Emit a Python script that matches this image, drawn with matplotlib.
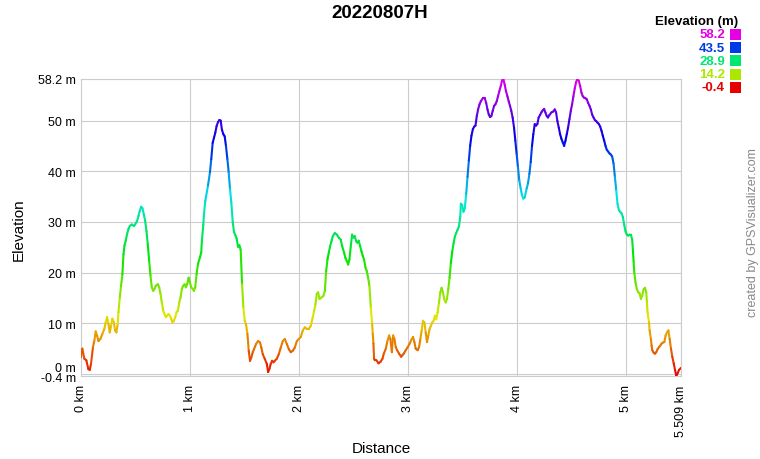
import numpy as np
import matplotlib
matplotlib.use("Agg")
import matplotlib.pyplot as plt
from matplotlib.collections import LineCollection
from matplotlib.colors import hsv_to_rgb
from matplotlib.patches import Rectangle

plt.rcParams['font.family'] = ['Liberation Sans', 'DejaVu Sans']

# elevation profile
dist_km = [
    0.000, 0.012, 0.031, 0.049, 0.067, 0.080, 0.092, 0.110, 0.123, 0.135, 0.147, 0.160, 0.178, 0.196,
    0.215, 0.227, 0.239, 0.252, 0.264, 0.276, 0.288, 0.301, 0.313, 0.325, 0.337, 0.344, 0.356, 0.368,
    0.380, 0.390, 0.399, 0.411, 0.423, 0.436, 0.448, 0.466, 0.485, 0.497, 0.515, 0.528, 0.540, 0.552,
    0.564, 0.577, 0.589, 0.601, 0.613, 0.626, 0.638, 0.650, 0.663, 0.675, 0.687, 0.706, 0.718, 0.730,
    0.742, 0.755, 0.767, 0.779, 0.791, 0.804, 0.816, 0.828, 0.840, 0.853, 0.865, 0.877, 0.890, 0.902,
    0.914, 0.926, 0.939, 0.951, 0.963, 0.975, 0.988, 1.000, 1.012, 1.025, 1.037, 1.049, 1.061, 1.074,
    1.092, 1.104, 1.110, 1.123, 1.129, 1.141,
    1.166, 1.184, 1.196, 1.209, 1.221, 1.233, 1.245, 1.258, 1.270, 1.282, 1.294, 1.307, 1.319, 1.331,
    1.344, 1.356, 1.368, 1.380, 1.393, 1.405, 1.417, 1.429, 1.442, 1.454, 1.466, 1.479, 1.491, 1.503,
    1.515, 1.528, 1.540, 1.552, 1.564, 1.577, 1.589, 1.607, 1.626, 1.644, 1.656, 1.669, 1.687, 1.706,
    1.718, 1.730, 1.742, 1.755, 1.767, 1.779, 1.798, 1.816, 1.834, 1.853, 1.871, 1.890, 1.908, 1.926,
    1.945, 1.963, 1.982, 2.000,
    2.018, 2.037, 2.055, 2.073, 2.092, 2.110, 2.128, 2.141, 2.153, 2.165, 2.177, 2.190, 2.208, 2.226,
    2.239, 2.251, 2.263, 2.275, 2.287, 2.300, 2.312, 2.330, 2.349, 2.367, 2.385, 2.398, 2.416, 2.428,
    2.440, 2.453, 2.465, 2.477, 2.489, 2.502, 2.514, 2.526, 2.538, 2.550, 2.563, 2.575, 2.587, 2.599,
    2.612, 2.624, 2.636, 2.648, 2.661, 2.673, 2.679, 2.685, 2.691, 2.697,
    2.713, 2.732, 2.750, 2.768, 2.780, 2.799, 2.811, 2.829, 2.841, 2.854, 2.866, 2.878, 2.890, 2.902,
    2.921, 2.939, 2.951, 2.963, 2.982, 3.000, 3.018, 3.037, 3.049, 3.061, 3.073, 3.091, 3.104, 3.116,
    3.128, 3.140, 3.152, 3.165, 3.177, 3.189, 3.201, 3.213, 3.226, 3.238, 3.250, 3.262, 3.274, 3.287,
    3.299, 3.311, 3.323, 3.335, 3.348, 3.360, 3.372, 3.384, 3.396, 3.409, 3.421, 3.433, 3.445, 3.457,
    3.470, 3.482, 3.488, 3.500, 3.512, 3.524, 3.537, 3.549, 3.561, 3.573, 3.585, 3.598, 3.610, 3.622,
    3.634, 3.646, 3.659, 3.671, 3.689, 3.707, 3.720, 3.732, 3.744, 3.756, 3.768, 3.780, 3.793, 3.805,
    3.817, 3.829, 3.841, 3.854, 3.866, 3.878, 3.890, 3.902, 3.915, 3.927, 3.939, 3.951, 3.963, 3.976,
    3.988, 4.000, 4.012, 4.024, 4.037, 4.049, 4.061, 4.073,
    4.092, 4.104, 4.117, 4.129, 4.141, 4.153, 4.166, 4.178, 4.190, 4.202, 4.215, 4.227, 4.239, 4.252,
    4.264, 4.276, 4.288, 4.301, 4.319, 4.337, 4.350, 4.362, 4.374, 4.387, 4.399, 4.411, 4.423, 4.436,
    4.448, 4.460, 4.472, 4.485, 4.497, 4.509, 4.521, 4.534, 4.546, 4.558, 4.571, 4.583, 4.595, 4.607,
    4.620, 4.632, 4.644, 4.656, 4.669, 4.681, 4.693, 4.706, 4.718, 4.730, 4.742, 4.755, 4.767, 4.779,
    4.791, 4.804, 4.816, 4.828, 4.840, 4.853, 4.865, 4.877, 4.890, 4.902, 4.914, 4.926, 4.939, 4.951,
    4.963, 4.975, 4.988, 5.000, 5.012, 5.025, 5.037, 5.049, 5.061, 5.067, 5.074, 5.080, 5.092, 5.104,
    5.117, 5.129, 5.141, 5.153, 5.166, 5.178, 5.190, 5.196, 5.202, 5.215, 5.221, 5.233, 5.239, 5.245,
    5.258, 5.270, 5.282, 5.294, 5.307, 5.319, 5.331, 5.344, 5.356, 5.368, 5.380, 5.393, 5.405, 5.417,
    5.429, 5.442, 5.454, 5.466, 5.479, 5.491, 5.509,
]
elev_m = [
    3.3, 5.0, 3.0, 2.7, 1.0, 0.8, 2.0, 5.3, 6.6, 8.4, 7.6, 6.5, 6.9, 7.9,
    8.9, 10.2, 11.2, 9.9, 8.2, 9.5, 10.9, 10.2, 8.6, 8.2, 9.9, 12.2, 15.1, 17.4,
    19.7, 23.6, 25.3, 26.3, 27.6, 28.6, 29.2, 29.5, 29.2, 29.5, 30.2, 31.2, 32.2, 33.0,
    32.7, 31.5, 30.2, 28.2, 25.6, 22.3, 19.4, 17.1, 16.4, 16.8, 17.4, 17.7, 17.1, 15.8,
    14.1, 12.5, 11.8, 11.2, 11.5, 11.8, 11.5, 10.9, 10.2, 10.5, 11.2, 12.2, 12.5, 14.1,
    15.1, 16.8, 17.4, 17.7, 17.1, 17.7, 19.0, 18.1, 17.1, 16.8, 16.4, 17.1, 19.7, 21.7,
    23.0, 24.0, 26.3, 29.5, 31.5, 34.1,
    37.2, 39.8, 42.4, 45.6, 46.6, 47.6, 48.9, 49.7, 50.1, 50.0, 48.2, 47.3, 46.9, 45.0,
    42.4, 39.8, 36.5, 33.9, 30.0, 28.0, 27.4, 26.7, 25.1, 25.4, 24.5, 17.7, 13.1, 10.5,
    9.8, 7.9, 4.6, 2.6, 3.3, 4.3, 4.9, 5.9, 6.5, 6.2, 5.2, 3.9, 3.0, 2.0,
    0.4, 1.0, 2.0, 2.6, 2.3, 2.6, 3.0, 3.9, 5.2, 6.5, 6.9, 5.9, 4.9, 4.3,
    4.6, 5.2, 6.5, 6.9,
    7.3, 8.6, 9.2, 8.9, 8.9, 9.5, 11.2, 12.5, 13.8, 15.8, 16.1, 14.8, 15.1, 15.4,
    16.4, 20.3, 22.6, 23.9, 25.2, 26.2, 27.2, 27.8, 27.5, 26.9, 26.5, 25.2, 23.9, 22.9,
    22.3, 21.6, 22.6, 25.2, 27.5, 26.9, 27.2, 26.2, 25.9, 26.3, 25.2, 24.2, 23.3, 22.6,
    21.0, 20.3, 19.0, 17.4, 13.1, 9.9, 7.9, 6.0, 3.0, 2.7,
    2.7, 2.1, 2.4, 3.0, 4.0, 5.0, 6.3, 7.6, 6.9, 4.3, 7.6, 6.9, 5.3, 4.7,
    4.0, 3.4, 3.7, 4.0, 4.7, 5.3, 6.0, 6.9, 7.3, 6.3, 5.0, 4.7, 5.3, 6.9,
    8.6, 10.5, 10.2, 8.2, 6.3, 7.6, 8.9, 9.5, 10.2, 10.5, 11.5, 10.8, 12.1, 14.1,
    16.1, 17.0, 16.1, 14.8, 14.1, 14.8, 16.7, 19.0, 21.9, 24.2, 25.8, 27.1, 27.8, 28.4,
    29.1, 31.0, 33.6, 33.3, 32.0, 32.7, 35.6, 38.9, 42.1, 45.0, 47.0, 48.3, 48.8, 49.0,
    50.9, 52.2, 53.2, 53.8, 54.4, 54.4, 53.5, 52.2, 51.2, 50.7, 50.9, 51.9, 52.9, 53.2,
    53.8, 54.8, 55.8, 56.8, 57.9, 58.2, 57.1, 55.8, 54.8, 53.8, 52.9, 51.9, 50.6, 48.6,
    46.0, 43.4, 40.8, 38.2, 36.6, 35.3, 34.6, 34.8,
    36.6, 37.6, 39.5, 41.8, 45.0, 47.3, 49.3, 49.0, 49.3, 50.6, 51.1, 51.6, 52.0, 52.3,
    51.6, 50.9, 50.6, 51.1, 51.6, 51.8, 52.2, 51.6, 49.9, 48.6, 47.3, 46.4, 45.7, 45.0,
    46.0, 47.3, 48.6, 50.3, 51.9, 53.2, 54.8, 56.4, 57.6, 58.2, 57.8, 56.8, 55.5, 54.8,
    54.5, 54.4, 54.2, 53.5, 52.9, 52.2, 51.2, 50.6, 50.1, 49.9, 49.6, 49.3, 48.8, 48.0,
    47.0, 46.0, 45.0, 44.2, 43.9, 43.5, 43.3, 42.9, 41.5, 38.9, 36.3, 33.6, 32.3, 32.0,
    31.7, 31.0, 29.4, 28.1, 27.5, 27.3, 27.5, 27.5, 26.5, 24.5, 22.2, 20.0, 18.0, 16.7,
    16.1, 15.9, 14.8, 15.4, 16.7, 17.0, 16.1, 14.1, 12.1, 10.2, 8.6, 6.9, 5.6, 4.7,
    4.2, 4.0, 4.3, 4.9, 5.3, 5.6, 6.0, 6.2, 6.3, 7.6, 8.2, 8.6, 6.9, 5.0,
    3.4, 2.1, 0.8, -0.4, 0.2, 0.8, 1.2,
]

legend_vals = [58.2, 43.5, 28.9, 14.2, -0.4]
y_ticks = [10, 20, 30, 40, 50, 58.2]
y_labels = ['10 m', '20 m', '30 m', '40 m', '50 m', '58.2 m']
x_ticks = [0, 1, 2, 3, 4, 5, 5.509]
x_labels = ['0 km', '1 km', '2 km', '3 km', '4 km', '5 km', '5.509 km']

emin, emax = -0.4, 58.2


def elev_color(e):
    f = (e - emin) / (emax - emin)
    return hsv_to_rgb((f * 300 / 360, 1.0, 0.9))


fig = plt.figure(figsize=(7.6, 4.6), dpi=100)
ax = fig.add_axes([81 / 760, 1 - 377 / 460, 600 / 760, 297 / 460])

# colored profile line
x = np.array(dist_km)
y = np.array(elev_m)
pts = np.column_stack([x, y]).reshape(-1, 1, 2)
segs = np.concatenate([pts[:-1], pts[1:]], axis=1)
mid = (y[:-1] + y[1:]) / 2
lc = LineCollection(segs, colors=[elev_color(e) for e in mid], linewidths=1.5,
                    capstyle='round', joinstyle='round', zorder=3)
ax.add_collection(lc)

ax.set_xlim(0, 5.509)
ax.set_ylim(emin, emax)

grid_c = '#cccccc'
ax.set_yticks([emin, 0] + y_ticks)
ax.set_yticklabels(['', ''] + y_labels)
ax.set_xticks(x_ticks)
ax.set_xticklabels(x_labels, rotation=90, va='top', ha='center')
ax.tick_params(axis='both', length=0, labelsize=9, colors='black')
ax.tick_params(axis='y', pad=3.6)
ax.tick_params(axis='x', pad=6)
ax.grid(True, color=grid_c, linewidth=0.8)
ax.set_axisbelow(True)
for sp in ax.spines.values():
    sp.set_color(grid_c)
    sp.set_linewidth(0.8)

# bottom labels shifted apart so they do not overlap
ax.annotate('0 m', xy=(0, 0), xycoords=('axes fraction', 'data'), xytext=(-3.6, 4.6),
            textcoords='offset points', ha='right', va='center', fontsize=9)
ax.annotate('-0.4 m', xy=(0, emin), xycoords=('axes fraction', 'data'), xytext=(-3.6, -1.7),
            textcoords='offset points', ha='right', va='center', fontsize=9)

fig.text(380 / 760, 1 - 14 / 460, '20220807H', ha='center', va='center',
         fontsize=13.5, fontweight='bold')
fig.text(19 / 760, 1 - 230 / 460, 'Elevation', rotation=90, ha='center', va='center', fontsize=11)
fig.text(381 / 760, 1 - 449 / 460, 'Distance', ha='center', va='center', fontsize=11)
fig.text(753 / 760, 1 - 233 / 460, 'created by GPSVisualizer.com', rotation=90,
         ha='center', va='center', fontsize=9, color='#888888')

# elevation colour legend
fig.text(738 / 760, 1 - 21.5 / 460, 'Elevation (m)', ha='right', va='center',
         fontsize=9.5, fontweight='bold')
for i, v in enumerate(legend_vals):
    yc = 35.5 + i * 13.2
    c = elev_color(v)
    fig.text(725 / 760, 1 - yc / 460, f'{v:.1f}', ha='right', va='center',
             fontsize=9.5, fontweight='bold', color=c)
    fig.add_artist(Rectangle((730 / 760, 1 - (yc + 5.5) / 460), 11 / 760, 11 / 460,
                             transform=fig.transFigure, facecolor=c, edgecolor='none'))

fig.savefig('out.png', dpi=100)
